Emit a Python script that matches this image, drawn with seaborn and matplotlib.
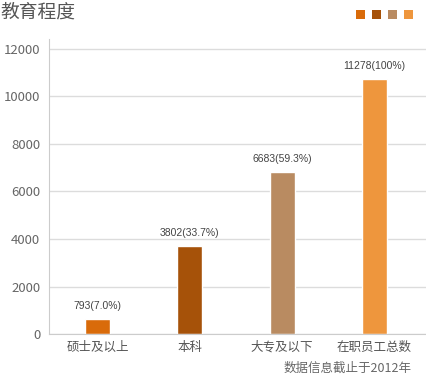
import matplotlib
matplotlib.use("Agg")
import matplotlib.pyplot as plt
import seaborn as sns
import pandas as pd
from matplotlib.patches import Patch

# data
categories = ["硕士及以上", "本科", "大专及以下", "在职员工总数"]
bar_heights = [640, 3690, 6800, 10720]      # drawn bar heights
counts = [793, 3802, 6683, 11278]           # numbers printed above bars
shares = ["7.0%", "33.7%", "59.3%", "100%"]
colors = ["#D96B0A", "#A65209", "#B98B61", "#EE963D"]
y_ticks = [0, 2000, 4000, 6000, 8000, 10000, 12000]

sns.set_style("white")
plt.rcParams["font.family"] = ["Noto Sans CJK SC", "DejaVu Sans"]

df = pd.DataFrame({"category": categories, "value": bar_heights})

fig = plt.figure(figsize=(4.26, 3.75), dpi=100)
ax = fig.add_axes([0.1143, 0.109, 0.886, 0.787])

sns.barplot(data=df, x="category", y="value", hue="category",
            palette=colors, saturation=1, width=0.27, legend=False, ax=ax)

ax.set_ylim(0, 12400)
ax.set_xlim(-0.53, 3.56)
ax.set_yticks(y_ticks)
ax.grid(axis="y", color="#dcdcdc", linewidth=1)
ax.set_axisbelow(True)
ax.set_xlabel("")
ax.set_ylabel("")
ax.tick_params(axis="y", length=0, pad=6, labelsize=9.5, labelcolor="#666666")
ax.tick_params(axis="x", length=0, pad=5, labelsize=9, labelcolor="#555555")
for s in ["top", "right"]:
    ax.spines[s].set_visible(False)
ax.spines["left"].set_color("#cccccc")
ax.spines["bottom"].set_color("#cccccc")

# value labels
for i, (h, c, p) in enumerate(zip(bar_heights, counts, shares)):
    ax.annotate(f"{c}({p})", (i, h), xytext=(0, 6), textcoords="offset points",
                ha="center", va="bottom", fontsize=7.5, color="#444444",
                family=["Liberation Sans", "DejaVu Sans"])

fig.text(0.0, 0.995, "教育程度", fontsize=13.5, color="#555555", va="top", ha="left")
fig.text(0.967, 0.019, "数据信息截止于2012年", fontsize=9, color="#666666",
         ha="right", va="center")

handles = [Patch(facecolor=c, edgecolor="none") for c in colors]
fig.legend(handles, [""] * 4, ncol=4, loc="upper right",
           bbox_to_anchor=(0.993, 1.004), frameon=False,
           handlelength=0.65, handleheight=0.65, handletextpad=0,
           columnspacing=0.5, borderpad=0.2)

fig.savefig("out.png", dpi=100)
plt.close(fig)
